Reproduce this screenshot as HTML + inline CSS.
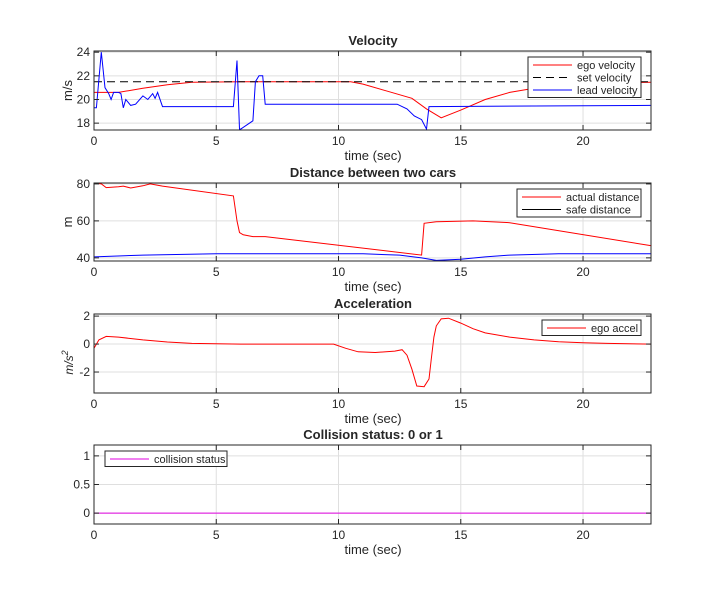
<!DOCTYPE html>
<html><head><meta charset="utf-8"><style>
body{margin:0;background:#fff;}
svg text{font-family:"Liberation Sans",sans-serif;fill:#262626;}
</style></head><body>
<svg id="c" width="720" height="600" xmlns="http://www.w3.org/2000/svg"></svg>
<script>
const egoVel=[[0,20.6],[1,20.6],[2,20.95],[3,21.25],[4,21.45],[6,21.5],[10.5,21.5],[11,21.3],[12,20.7],[13,20.1],[13.6,19.2],[14.2,18.45],[15,19.1],[16,20.0],[17,20.6],[18,20.95],[19,21.15],[20,21.3],[21,21.4],[22.8,21.45]];
const setVel=[[0,21.5],[22.8,21.5]];
const leadVel=[[0,19.3],[0.1,19.3],[0.3,24],[0.45,21],[0.6,20.5],[0.7,20.0],[0.8,20.6],[1.0,20.6],[1.1,20.5],[1.2,19.3],[1.3,20.0],[1.5,19.5],[1.7,19.6],[2.0,20.3],[2.2,20.0],[2.4,20.5],[2.5,20.1],[2.6,20.6],[2.8,19.4],[5.7,19.4],[5.85,23.3],[5.95,17.5],[6.0,17.5],[6.5,18.2],[6.6,21.5],[6.75,22.0],[6.9,22.0],[7.0,19.6],[12.4,19.6],[12.8,19.2],[13.1,18.6],[13.4,18.3],[13.6,17.5],[13.7,19.4],[22.8,19.5]];
const actualDist=[[0,80.5],[0.3,80],[0.5,78],[1,78.5],[1.2,78.8],[1.5,77.8],[2,79],[2.3,80],[2.8,78.8],[5.7,73.5],[5.85,60],[5.95,53.7],[6.1,52.5],[6.5,51.5],[7,51.5],[13.4,41.5],[13.5,58.7],[14,59.5],[15.5,60],[17,59],[22.8,46.5]];
const safeDist=[[0,40.5],[2,41.5],[5,42.2],[11,42.2],[12.5,41.5],[13.4,40],[14,38.6],[15,39.3],[16,40.5],[17,41.5],[19,42.2],[22.8,42.2]];
const egoAccel=[[0,-0.3],[0.2,0.3],[0.5,0.55],[1,0.5],[2,0.3],[3,0.15],[4,0.05],[6,0],[9.8,0],[10.3,-0.3],[10.8,-0.55],[11.5,-0.6],[12.3,-0.5],[12.6,-0.4],[12.8,-0.8],[13,-1.8],[13.2,-3.0],[13.5,-3.05],[13.7,-2.5],[13.8,-1.0],[13.9,0.5],[14.0,1.3],[14.2,1.8],[14.5,1.85],[15,1.5],[15.5,1.1],[16,0.8],[17,0.5],[18,0.3],[19,0.17],[20,0.1],[21,0.05],[22.8,0]];
const collision=[[0,0],[22.8,0]];
const xTicks=[0,5,10,15,20];
const NS="http://www.w3.org/2000/svg";
const svg=document.getElementById('c');
function el(t,a,p){const e=document.createElementNS(NS,t);for(const k in a)e.setAttribute(k,a[k]);(p||svg).appendChild(e);return e;}
const X0=94,X1=651,XMAX=22.78;
function xs(t){return X0+t/XMAX*(X1-X0);}
const panels=[
 {name:'velocity',title:'Velocity',top:51,bot:130,ymin:17.42,ymax:24.1,yt:[18,20,22,24],yl:'m/s',
  series:[{d:egoVel,c:'#ff0000',n:'ego-velocity-line'},{d:setVel,c:'#000',dash:'8,5',n:'set-velocity-line'},{d:leadVel,c:'#0000ff',n:'lead-velocity-line'}],
  leg:{x:528,y:57,w:113,items:[['ego velocity','#ff0000',''],['set velocity','#000','8,5'],['lead velocity','#0000ff','']]}},
 {name:'distance',title:'Distance between two cars',top:183,bot:261,ymin:38.3,ymax:80.5,yt:[40,60,80],yl:'m',
  series:[{d:actualDist,c:'#ff0000',n:'actual-distance-line'},{d:safeDist,c:'#0000ff',n:'safe-distance-line'}],
  leg:{x:517,y:189,w:124,items:[['actual distance','#ff0000',''],['safe distance','#000','']]}},
 {name:'acceleration',title:'Acceleration',top:314,bot:393,ymin:-3.5,ymax:2.15,yt:[-2,0,2],yl:'m/s2',
  series:[{d:egoAccel,c:'#ff0000',n:'ego-accel-line'}],
  leg:{x:542,y:320,w:99,items:[['ego accel','#ff0000','']]}},
 {name:'collision',title:'Collision status: 0 or 1',top:445,bot:524,ymin:-0.19,ymax:1.19,yt:[0,0.5,1],yl:'',
  series:[{d:collision,c:'#e000e0',n:'collision-status-line'}],
  leg:{x:105,y:451,w:122,items:[['collision status','#e000e0','']]}}
];
panels.forEach(p=>{
 const g=el('g',{});
 
 
 const ys=v=>p.bot-(v-p.ymin)/(p.ymax-p.ymin)*(p.bot-p.top);
 el('rect',{x:X0,y:p.top,width:X1-X0,height:p.bot-p.top,fill:'#fff'},g);
 xTicks.forEach(t=>{el('line',{x1:xs(t),x2:xs(t),y1:p.top,y2:p.bot,stroke:'#dfdfdf'},g);});
 p.yt.forEach(v=>{el('line',{x1:X0,x2:X1,y1:ys(v),y2:ys(v),stroke:'#dfdfdf'},g);});
 p.series.forEach(s=>{
  const pl=el('polyline',{points:s.d.map(q=>xs(q[0]).toFixed(1)+','+ys(q[1]).toFixed(1)).join(' '),fill:'none',stroke:s.c,'stroke-width':1,'stroke-dasharray':s.dash||'none'},g);
  
  
 });
 el('rect',{x:X0,y:p.top,width:X1-X0,height:p.bot-p.top,fill:'none',stroke:'#262626'},g);
 xTicks.forEach(t=>{
  el('line',{x1:xs(t),x2:xs(t),y1:p.bot,y2:p.bot-5,stroke:'#262626'},g);
  el('line',{x1:xs(t),x2:xs(t),y1:p.top,y2:p.top+5,stroke:'#262626'},g);
  const tx=el('text',{x:xs(t),y:p.bot+15,'font-size':12,'text-anchor':'middle'},g);tx.textContent=t;
 });
 p.yt.forEach(v=>{
  el('line',{x1:X0,x2:X0+5,y1:ys(v),y2:ys(v),stroke:'#262626'},g);
  el('line',{x1:X1,x2:X1-5,y1:ys(v),y2:ys(v),stroke:'#262626'},g);
  const tx=el('text',{x:X0-4,y:ys(v)+4,'font-size':12,'text-anchor':'end'},g);tx.textContent=v;
 });
 const xl=el('text',{x:373,y:p.bot+30,'font-size':13,'text-anchor':'middle'},g);xl.textContent='time (sec)';
 
 const tt=el('text',{x:373,y:p.top-6,'font-size':13,'font-weight':'bold','text-anchor':'middle'},g);tt.textContent=p.title;
 
 const cy=(p.top+p.bot)/2;
 if(p.yl==='m/s2'){
  const yl=el('text',{x:0,y:0,'font-size':12,'text-anchor':'middle','font-style':'italic','font-family':'Liberation Serif,serif',transform:'translate(73,'+(cy+9)+') rotate(-90)'},g);
  yl.innerHTML='m/s<tspan dy="-5" font-size="9">2</tspan>';
  
 } else if(p.yl){
  const yl=el('text',{x:0,y:0,'font-size':13,'text-anchor':'middle',transform:'translate(72,'+cy+') rotate(-90)'},g);yl.textContent=p.yl;
  
 }
 const L=p.leg,h=L.items.length*12.5+3;
 const lg=el('g',{},g);
 
 el('rect',{x:L.x,y:L.y,width:L.w,height:h,fill:'#fff',stroke:'#262626'},lg);
 L.items.forEach((it,i)=>{
  const y=L.y+8+i*12.5;
  el('line',{x1:L.x+5,x2:L.x+44,y1:y,y2:y,stroke:it[1],'stroke-dasharray':it[2]||'none'},lg);
  const t=el('text',{x:L.x+49,y:y+4,'font-size':11},lg);t.textContent=it[0];
  
 });
});
</script>
</body></html>
